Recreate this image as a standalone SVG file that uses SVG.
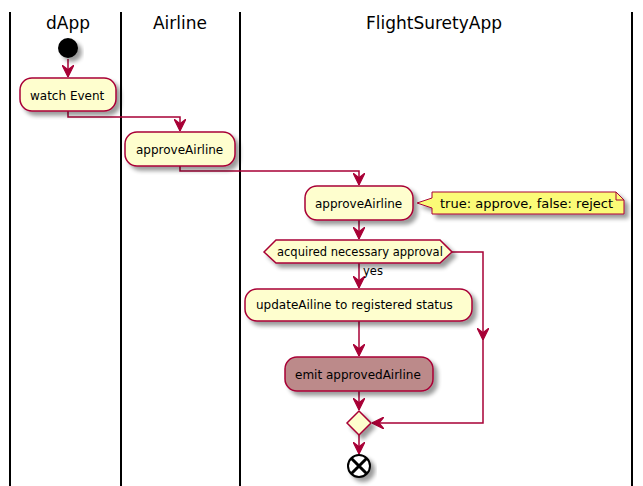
<svg xmlns="http://www.w3.org/2000/svg" width="643" height="486" viewBox="0 0 643 486">
<defs>
<filter id="sh" x="-20%" y="-20%" width="150%" height="160%">
<feGaussianBlur in="SourceAlpha" stdDeviation="2"/>
<feOffset dx="4" dy="4" result="b"/>
<feComponentTransfer><feFuncA type="linear" slope="0.4"/></feComponentTransfer>
<feMerge><feMergeNode/><feMergeNode in="SourceGraphic"/></feMerge>
</filter>
<marker id="ah" markerWidth="12" markerHeight="12" refX="10" refY="5" orient="auto" markerUnits="userSpaceOnUse" viewBox="0 0 10 10">
<path d="M0,0 L10,5 L0,10 L4,5 Z" fill="#A80036" stroke="#A80036" stroke-width="1"/>
</marker>
</defs>
<style>
.lane{stroke:#000;stroke-width:2}
.title{font-family:"DejaVu Sans",sans-serif;font-size:17px;fill:#000;text-anchor:middle}
.act{fill:#FEFECE;stroke:#A80036;stroke-width:1.5;filter:url(#sh)}
.t{font-family:"DejaVu Sans",sans-serif;font-size:12px;fill:#000}
.c{fill:none;stroke:#A80036;stroke-width:1.5}
</style>
<rect width="643" height="486" fill="#fff"/>
<g id="lanes">
<line class="lane" x1="10" y1="12" x2="10" y2="486"/>
<line class="lane" x1="121" y1="12" x2="121" y2="486"/>
<line class="lane" x1="240" y1="12" x2="240" y2="486"/>
<line class="lane" x1="632" y1="12" x2="632" y2="486"/>
<text class="title" x="68" y="29">dApp</text>
<text class="title" x="180" y="29">Airline</text>
<text class="title" x="434" y="29">FlightSuretyApp</text>
</g>
<g id="connectors">
<path class="c" d="M68,59 V77" marker-end="url(#ah)"/>
<path class="c" d="M68,111 V117 H180 V131" marker-end="url(#ah)"/>
<path class="c" d="M180,166 V171 H359 V185" marker-end="url(#ah)"/>
<path class="c" d="M359,220 V239" marker-end="url(#ah)"/>
<path class="c" d="M359,263 V288" marker-end="url(#ah)"/>
<path class="c" d="M359,321 V356" marker-end="url(#ah)"/>
<path class="c" d="M359,391 V410" marker-end="url(#ah)"/>
<path class="c" d="M452,252 H483 V340" marker-end="url(#ah)"/>
<path class="c" d="M483,336 V423 H372" marker-end="url(#ah)"/>
<path class="c" d="M359,435 V454" marker-end="url(#ah)"/>
<text class="t" x="363" y="275" style="font-size:11.5px">yes</text>
</g>
<g id="start"><circle cx="68" cy="48" r="10" fill="#000" filter="url(#sh)"/></g>
<g id="watchEvent">
<rect class="act" x="20" y="78" width="96" height="33" rx="12"/>
<text class="t" x="30" y="100">watch Event</text>
</g>
<g id="approveAirline1">
<rect class="act" x="125" y="132" width="110" height="34" rx="12"/>
<text class="t" x="136" y="154">approveAirline</text>
</g>
<g id="approveAirline2">
<rect class="act" x="305" y="186" width="108" height="34" rx="12"/>
<text class="t" x="315" y="208">approveAirline</text>
</g>
<g id="note">
<path d="M432,192 H616 L624,200 V214 H432 V208 L417,203 L432,198 Z" fill="#FBFB77" stroke="#A80036" stroke-width="1" filter="url(#sh)"/>
<path d="M616,192 V200 H624" fill="none" stroke="#A80036" stroke-width="1"/>
<text x="440" y="208" style="font-family:'DejaVu Sans',sans-serif;font-size:13px">true: approve, false: reject</text>
</g>
<g id="decision">
<polygon class="act" points="264,252 276,240 440,240 452,252 440,263 276,263"/>
<text class="t" x="277" y="256" style="font-size:11.5px">acquired necessary approval</text>
</g>
<g id="updateAiline">
<rect class="act" x="245" y="289" width="227" height="32" rx="12"/>
<text class="t" x="256" y="309">updateAiline to registered status</text>
</g>
<g id="emit">
<rect class="act" x="285" y="357" width="148" height="34" rx="12" style="fill:#BC8A8A"/>
<text class="t" x="295" y="379">emit approvedAirline</text>
</g>
<g id="merge">
<polygon class="act" points="359,411 371,423 359,435 347,423"/>
</g>
<g id="end">
<circle cx="359" cy="466" r="11" fill="#fff" stroke="#000" stroke-width="2" filter="url(#sh)"/>
<path d="M351.5,458.5 L366.5,473.5 M366.5,458.5 L351.5,473.5" stroke="#000" stroke-width="3"/>
</g>
</svg>
